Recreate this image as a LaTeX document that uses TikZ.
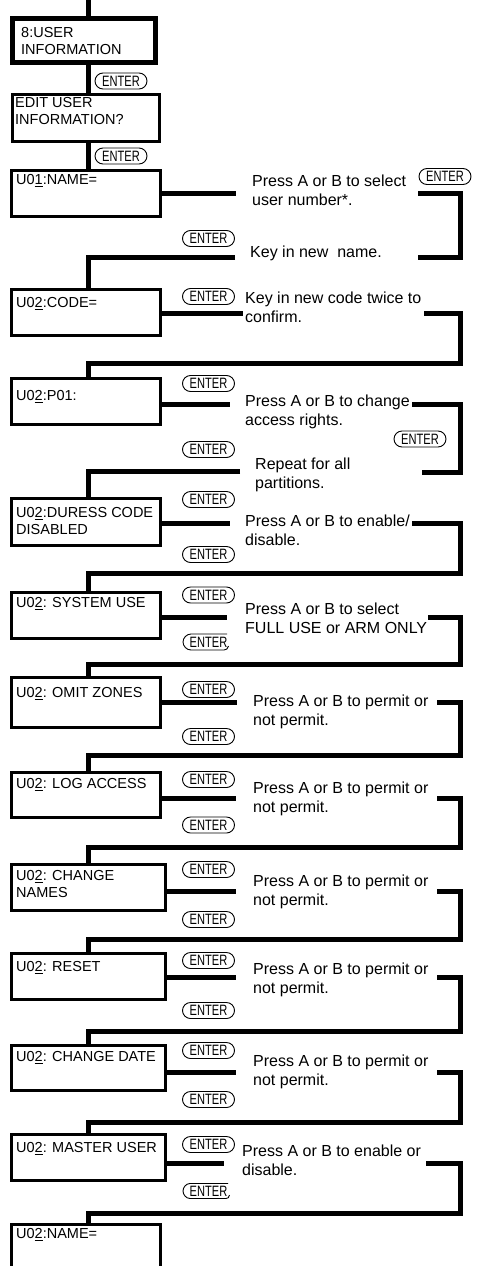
\documentclass[tikz,border=0pt]{standalone}
\usepackage{fontspec}
\setmainfont{Liberation Sans}
\usepackage{graphicx}
\tikzset{
 conn/.style={line width=5pt, line join=miter},
 boxn/.style={draw, line width=3pt, rectangle, anchor=north west, inner sep=0pt, outer sep=0pt},
 thickboxn/.style={boxn, line width=5pt},
 boxtxt/.style={anchor=north west, inner sep=0pt, align=left, font=\fontsize{14.5}{17}\selectfont},
 desc/.style={anchor=north west, inner sep=0pt, align=left, font=\fontsize{16}{19}\selectfont},
 pill/.style={draw, line width=0.9pt, rounded corners=8pt, minimum width=52pt, minimum height=16pt, inner sep=0pt, font=\fontsize{15}{15}\selectfont},
 pilltxt/.style={inner sep=0pt, font=\fontsize{15}{15}\selectfont},
 cutpill/.style={line width=0.9pt},
}
\newcommand{\entr}{\scalebox{0.74}[1]{ENTER}}
\begin{document}
\begin{tikzpicture}[x=1pt,y=-1pt]
\useasboundingbox (0,0) rectangle (479,1266);
\coordinate (vx) at (88,0);
\coordinate (rx) at (460,0);
\coordinate (top) at (88,-5);

% boxes
\node[thickboxn, minimum width=143pt, minimum height=44pt] (b1) at (12.5,18.5) {};
\node[boxn, minimum width=147pt, minimum height=47pt] (b2) at (12.5,94.5) {};
\node[boxn, minimum width=149pt, minimum height=46pt] (b3) at (11.5,170.5) {};
\node[boxn, minimum width=149pt, minimum height=46pt] (b4) at (11.5,289.5) {};
\node[boxn, minimum width=149pt, minimum height=46pt] (b5) at (11.5,378.5) {};
\node[boxn, minimum width=149pt, minimum height=47pt] (b6) at (11.5,498.5) {};
\node[boxn, minimum width=149pt, minimum height=46pt] (b7) at (11.5,592.5) {};
\node[boxn, minimum width=149pt, minimum height=50pt] (b8) at (11.5,677.5) {};
\node[boxn, minimum width=149pt, minimum height=45pt] (b9) at (11.5,772.5) {};
\node[boxn, minimum width=154pt, minimum height=46pt] (b10) at (11.5,864.5) {};
\node[boxn, minimum width=154pt, minimum height=46pt] (b11) at (11.5,953.5) {};
\node[boxn, minimum width=154pt, minimum height=45pt] (b12) at (11.5,1045.5) {};
\node[boxn, minimum width=154pt, minimum height=46pt] (b13) at (11.5,1134.5) {};
\begin{scope}
\clip (0,0) rectangle (479,1266);
\node[boxn, minimum width=149pt, minimum height=70pt] (b14) at (11.5,1224.5) {};
\end{scope}

% box texts
\node[boxtxt] (b1t) at (21,27) {8:USER\\INFORMATION};
\node[boxtxt] (b2t) at (15,97) {EDIT USER\\INFORMATION?};
\node[boxtxt] (b3t) at (16,174) {U0\underline{1}:NAME=};
\node[boxtxt] (b4t) at (16,297) {U0\underline{2}:CODE=};
\node[boxtxt] (b5t) at (16,390) {U0\underline{2}:P01:};
\node[boxtxt] (b6t) at (16,507) {U0\underline{2}:DURESS CODE\\DISABLED};
\node[boxtxt] (b7t) at (16,597) {U0\underline{2}: SYSTEM USE};
\node[boxtxt] (b8t) at (16,687) {U0\underline{2}: OMIT ZONES};
\node[boxtxt] (b9t) at (16,778) {U0\underline{2}: LOG ACCESS};
\node[boxtxt] (b10t) at (16,870) {U0\underline{2}: CHANGE\\NAMES};
\node[boxtxt] (b11t) at (16,961) {U0\underline{2}: RESET};
\node[boxtxt] (b12t) at (16,1051) {U0\underline{2}: CHANGE DATE};
\node[boxtxt] (b13t) at (16,1142) {U0\underline{2}: MASTER USER};
\node[boxtxt] (b14t) at (16,1228) {U0\underline{2}:NAME=};

% descriptions
\node[desc] (t1) at (252,175) {Press A or B to select\\user number*.};
\node[desc] (t2) at (250,246) {Key in new~ name.};
\node[desc] (t3) at (245,292) {Key in new code twice to\\confirm.};
\node[desc] (t4) at (245,395) {Press A or B to change\\access rights.};
\node[desc] (t5) at (255,458) {Repeat for all\\partitions.};
\node[desc] (t6) at (245,515) {Press A or B to enable/\\disable.};
\node[desc] (t7) at (245,603) {Press A or B to select\\FULL USE or ARM ONLY};
\node[desc] (t8) at (253,695) {Press A or B to permit or\\not permit.};
\node[desc] (t9) at (253,782) {Press A or B to permit or\\not permit.};
\node[desc] (t10) at (253,875) {Press A or B to permit or\\not permit.};
\node[desc] (t11) at (253,963) {Press A or B to permit or\\not permit.};
\node[desc] (t12) at (253,1055) {Press A or B to permit or\\not permit.};
\node[desc] (t13) at (242,1145) {Press A or B to enable or\\disable.};

% ENTER keys
\node[pill] (p1) at (121,81) {\entr};
\node[pill] (p2) at (121,156) {\entr};
\node[pill] (p3) at (445,176.5) {\entr};
\node[pill] (p4) at (208.5,238.5) {\entr};
\node[pill] (p5) at (208.5,296.5) {\entr};
\node[pill] (p6) at (208.5,383.5) {\entr};
\node[pill] (p7) at (420,439) {\entr};
\node[pill] (p8) at (208.5,449.5) {\entr};
\node[pill] (p9) at (208.5,499.5) {\entr};
\node[pill] (p10) at (208.5,554.5) {\entr};
\node[pill] (p11) at (208.5,595) {\entr};
\node[pilltxt] (p12) at (208.5,642) {\entr};
\draw[cutpill] (227,634) -- (191,634) .. controls (186.5,634) and (183,638) .. (183,642) .. controls (183,646) and (186.5,650) .. (191,650) -- (224,650) .. controls (226.5,650) and (228,648.5) .. (228.5,646);
\node[pill] (p13) at (208.5,689.5) {\entr};
\node[pill] (p14) at (208.5,736.5) {\entr};
\node[pill] (p15) at (208.5,779.5) {\entr};
\node[pill] (p16) at (208.5,825) {\entr};
\node[pill] (p17) at (208.5,869.5) {\entr};
\node[pill] (p18) at (208.5,919.5) {\entr};
\node[pill] (p19) at (208.5,960.5) {\entr};
\node[pill] (p20) at (208.5,1010.5) {\entr};
\node[pill] (p21) at (208.5,1050.5) {\entr};
\node[pill] (p22) at (208.5,1099.5) {\entr};
\node[pill] (p23) at (208.5,1144.5) {\entr};
\node[pilltxt] (p24) at (208.5,1191) {\entr};
\draw[cutpill] (228,1183.5) -- (190,1183.5) .. controls (186,1183.5) and (183,1187.5) .. (183,1191) .. controls (183,1194.5) and (186,1198.5) .. (190,1198.5) -- (226,1198.5) .. controls (228,1198.5) and (229,1197.5) .. (229.5,1195);

% vertical connectors at top
\draw[conn] (top) -- (vx |- b1.north);
\draw[conn] (vx |- b1.south) -- (vx |- b2.north);
\draw[conn] (vx |- b2.south) -- (vx |- b3.north);

% stage 1
\coordinate (m1) at (236,193.5);
\draw[conn] (m1 -| b3.east) -- (m1);
\coordinate (r1t) at (418,193.5); \coordinate (r1b) at (418,257);
\draw[conn] (r1t) -- (r1t -| rx) -- (rx |- r1b) -- (r1b);
\coordinate (l1) at (235,257);
\draw[conn] (l1) -- (l1 -| vx) -- (vx |- b4.north);

% stage 2
\coordinate (m2) at (243,313);
\draw[conn] (m2 -| b4.east) -- (m2);
\coordinate (r2t) at (424,313); \coordinate (r2b) at (88,363);
\draw[conn] (r2t) -- (r2t -| rx) -- (rx |- r2b) -- (r2b) -- (vx |- b5.north);

% stage 3
\coordinate (m3) at (230,404);
\draw[conn] (m3 -| b5.east) -- (m3);
\coordinate (r3t) at (412,404); \coordinate (r3b) at (422,472);
\draw[conn] (r3t) -- (r3t -| rx) -- (rx |- r3b) -- (r3b);
\coordinate (l3) at (240,471);
\draw[conn] (l3) -- (l3 -| vx) -- (vx |- b6.north);

% stage 4
\coordinate (m4) at (230,523);
\draw[conn] (m4 -| b6.east) -- (m4);
\coordinate (r4t) at (412,523); \coordinate (r4b) at (88,573);
\draw[conn] (r4t) -- (r4t -| rx) -- (rx |- r4b) -- (r4b) -- (vx |- b7.north);

% stage 5
\coordinate (m5) at (227,617);
\draw[conn] (m5 -| b7.east) -- (m5);
\coordinate (r5t) at (428,617); \coordinate (r5b) at (88,664);
\draw[conn] (r5t) -- (r5t -| rx) -- (rx |- r5b) -- (r5b) -- (vx |- b8.north);

% stage 6
\coordinate (m6) at (237,702);
\draw[conn] (m6 -| b8.east) -- (m6);
\coordinate (r6t) at (437,702); \coordinate (r6b) at (88,755);
\draw[conn] (r6t) -- (r6t -| rx) -- (rx |- r6b) -- (r6b) -- (vx |- b9.north);

% stage 7
\coordinate (m7) at (236,798);
\draw[conn] (m7 -| b9.east) -- (m7);
\coordinate (r7t) at (437,798); \coordinate (r7b) at (88,847);
\draw[conn] (r7t) -- (r7t -| rx) -- (rx |- r7b) -- (r7b) -- (vx |- b10.north);

% stage 8
\coordinate (m8) at (236,891);
\draw[conn] (m8 -| b10.east) -- (m8);
\coordinate (r8t) at (437,891); \coordinate (r8b) at (88,939);
\draw[conn] (r8t) -- (r8t -| rx) -- (rx |- r8b) -- (r8b) -- (vx |- b11.north);

% stage 9
\coordinate (m9) at (236,977);
\draw[conn] (m9 -| b11.east) -- (m9);
\coordinate (r9t) at (437,977); \coordinate (r9b) at (88,1031);
\draw[conn] (r9t) -- (r9t -| rx) -- (rx |- r9b) -- (r9b) -- (vx |- b12.north);

% stage 10
\coordinate (m10) at (236,1072);
\draw[conn] (m10 -| b12.east) -- (m10);
\coordinate (r10t) at (437,1072); \coordinate (r10b) at (88,1122);
\draw[conn] (r10t) -- (r10t -| rx) -- (rx |- r10b) -- (r10b) -- (vx |- b13.north);

% stage 11
\coordinate (m11) at (224,1163);
\draw[conn] (m11 -| b13.east) -- (m11);
\coordinate (r11t) at (426,1163); \coordinate (r11b) at (88,1213);
\draw[conn] (r11t) -- (r11t -| rx) -- (rx |- r11b) -- (r11b) -- (vx |- b14.north);
\end{tikzpicture}
\end{document}
